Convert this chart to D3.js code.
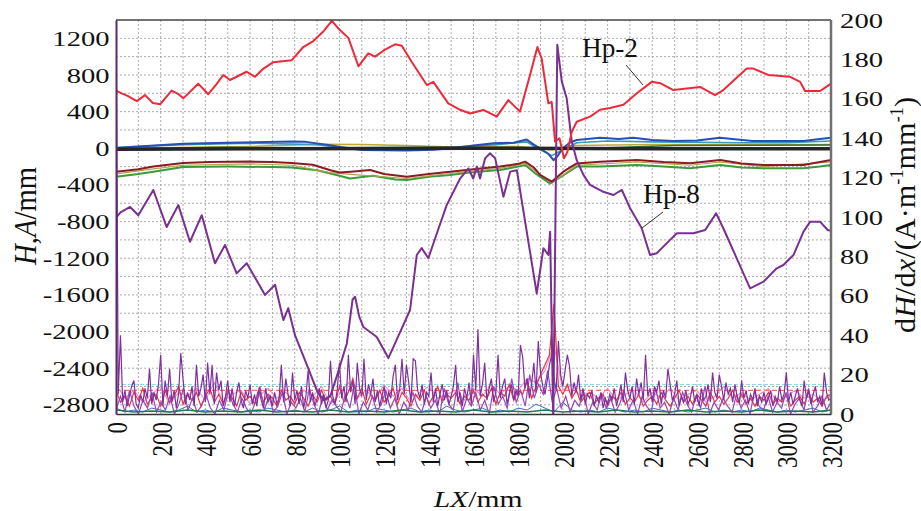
<!DOCTYPE html>
<html lang="en">
<head>
<meta charset="utf-8" />
<title>H, A and dH/dx along LX</title>
<script src="https://d3js.org/d3.v7.min.js"></script>
<style>
  body { margin: 0; background: #fff; }
  svg { display: block; font-family: "Liberation Serif", "Times New Roman", serif; }
  svg text { font-family: "Liberation Serif", "Times New Roman", serif; }
</style>
</head>
<body>
<div id="chart"></div>
<script>
// tick labels
const xTicks = [0, 200, 400, 600, 800, 1000, 1200, 1400, 1600, 1800, 2000, 2200, 2400, 2600, 2800, 3000, 3200];
const leftTicks = [-2800, -2400, -2000, -1600, -1200, -800, -400, 0, 400, 800, 1200];
const rightTicks = [0, 20, 40, 60, 80, 100, 120, 140, 160, 180, 200];

// H / A curves (left axis), [LX, value]
const hp2 = [[0,630],[25,600],[50,575],[93,515],[130,580],[165,495],[197,480],[249,630],[280,590],[301,545],[368,705],[413,590],[450,700],[480,800],[510,745],[585,835],[622,780],[660,870],[704,940],[786,960],[838,1105],[883,1170],[930,1280],[966,1390],[1002,1290],[1040,1205],[1085,895],[1129,1035],[1159,1000],[1200,1070],[1249,1135],[1279,1120],[1323,945],[1391,690],[1420,725],[1487,490],[1540,420],[1585,380],[1644,418],[1704,345],[1756,525],[1808,400],[1853,800],[1886,1105],[1905,980],[1935,490],[1950,505],[1965,75],[1985,110],[2005,-110],[2020,-40],[2040,180],[2062,290],[2122,345],[2166,420],[2211,440],[2271,475],[2331,600],[2398,725],[2435,710],[2495,635],[2614,670],[2681,580],[2718,635],[2823,870],[2853,870],[2920,800],[3017,780],[3062,725],[3084,625],[3151,625],[3200,705]];
const hp8 = [[0,-760],[20,-700],[63,-640],[100,-730],[167,-455],[227,-860],[279,-620],[331,-1020],[384,-730],[443,-1255],[488,-1055],[540,-1365],[585,-1255],[667,-1600],[712,-1490],[749,-1875],[771,-1745],[801,-2040],[860,-2400],[900,-2650],[930,-2750],[960,-2700],[988,-2490],[1033,-2130],[1059,-1650],[1070,-1620],[1089,-1840],[1107,-1950],[1167,-2060],[1219,-2290],[1271,-2010],[1316,-1765],[1346,-1165],[1368,-1090],[1398,-1200],[1440,-900],[1480,-620],[1540,-330],[1577,-220],[1599,-330],[1615,-200],[1629,-330],[1652,-110],[1674,-55],[1697,-110],[1734,-530],[1764,-255],[1794,-240],[1831,-800],[1883,-1585],[1913,-1090],[1935,-1165],[1943,-910],[1957,-3000],[1975,1130],[1995,730],[2017,545],[2040,70],[2062,-130],[2092,-290],[2122,-400],[2181,-475],[2226,-510],[2264,-455],[2301,-655],[2353,-873],[2390,-1165],[2420,-1146],[2472,-1019],[2510,-928],[2584,-928],[2637,-892],[2686,-710],[2718,-873],[2778,-1201],[2838,-1528],[2898,-1456],[2957,-1310],[2987,-1274],[3032,-1165],[3077,-910],[3107,-801],[3151,-801],[3185,-892],[3200,-900]];
const hBlue = [[0,0],[100,20],[300,50],[500,60],[786,75],[850,70],[950,35],[1040,0],[1100,-20],[1300,-25],[1420,-15],[1500,0],[1600,30],[1689,55],[1780,60],[1838,95],[1870,40],[1898,0],[1935,-60],[1958,-130],[1975,-90],[2000,0],[2030,60],[2062,90],[2166,115],[2250,100],[2316,115],[2400,90],[2495,80],[2600,85],[2704,115],[2780,95],[2850,80],[2950,80],[3077,80],[3150,100],[3200,115]];
const hTeal = [[0,10],[300,40],[600,55],[900,40],[1000,10],[1200,-10],[1500,10],[1700,40],[1838,70],[1900,-20],[1950,-80],[1990,-30],[2062,60],[2200,80],[2400,70],[2600,65],[2800,60],[3000,60],[3200,80]];
const hOlive = [[0,0],[600,20],[900,45],[1100,40],[1300,30],[1500,15],[1800,20],[1950,-20],[2050,30],[2400,40],[2800,40],[3200,40]];
const hGreenZero = [[0,-5],[500,10],[1000,5],[1500,10],[2000,-10],[2500,30],[3200,35]];
const hBlack = [[0,-10],[800,-5],[1600,0],[2400,-5],[3200,-5]];
const hDarkRed = [[0,-255],[100,-230],[167,-200],[300,-160],[420,-150],[600,-145],[700,-150],[786,-160],[880,-180],[960,-240],[1000,-265],[1050,-255],[1137,-237],[1200,-280],[1301,-310],[1400,-280],[1495,-255],[1600,-230],[1719,-200],[1800,-170],[1831,-146],[1870,-210],[1898,-290],[1950,-365],[2002,-255],[2062,-165],[2166,-146],[2331,-128],[2450,-150],[2569,-164],[2704,-128],[2800,-165],[2898,-182],[3077,-182],[3150,-150],[3200,-128]];
const hLowOlive = [[0,-280],[167,-225],[300,-185],[600,-170],[786,-185],[960,-265],[1050,-285],[1301,-330],[1495,-275],[1719,-220],[1831,-165],[1950,-380],[2062,-185],[2331,-150],[2569,-185],[2704,-150],[2898,-200],[3200,-150]];
const hGreen = [[0,-310],[100,-280],[167,-255],[300,-205],[500,-200],[700,-205],[786,-210],[900,-240],[1000,-300],[1047,-330],[1150,-300],[1250,-340],[1301,-346],[1400,-310],[1495,-292],[1600,-260],[1719,-237],[1800,-200],[1831,-182],[1880,-280],[1943,-385],[1980,-330],[2062,-200],[2166,-200],[2331,-182],[2450,-200],[2569,-219],[2704,-182],[2800,-210],[2898,-219],[3077,-219],[3150,-200],[3200,-182]];

// dH/dx noise (right axis), evenly spaced from LX 0 to 3200
const dPurple = [
  210,10,40,6,12,4,9,14,17,5,3,10,6,13,8,23,5,11,7,15,
  30,4,17,9,23,6,12,3,10,31,18,5,11,7,14,4,25,9,13,20,
  6,26,10,25,5,21,12,17,4,9,17,6,13,4,11,16,7,3,12,8,
  15,5,10,4,12,7,3,13,6,9,4,11,5,8,25,6,18,10,4,21,
  7,12,5,14,3,9,22,6,11,4,8,13,5,10,3,7,27,9,5,12,
  26,8,14,6,30,11,17,5,26,13,9,28,7,15,10,18,6,12,4,9,
  14,5,11,8,19,25,7,13,28,10,25,16,6,28,27,12,8,15,5,11,
  9,21,6,13,4,10,15,7,12,5,9,14,25,6,11,4,13,8,16,5,
  30,12,43,9,15,26,7,13,18,6,11,30,8,14,18,5,10,15,7,12,
  9,35,29,13,18,8,15,26,11,37,21,14,10,17,25,30,18,12,37,20,
  14,22,30,24,9,16,11,20,7,13,5,10,8,12,4,9,6,11,3,8,
  5,10,7,13,4,9,15,6,21,12,8,14,5,18,10,16,7,30,9,13,
  6,14,11,17,5,12,8,23,15,7,10,17,4,9,6,12,5,8,14,6,
  10,4,13,7,9,15,6,21,11,8,20,14,7,16,10,13,6,15,9,5,
  17,8,12,5,10,7,13,4,9,6,11,5,8,12,4,9,6,14,7,10,
  21,6,11,5,9,13,7,4,17,8,12,5,10,14,6,9,4,21,11,7,8
];
const dViolet = [
  2,9,1,12,4,0,7,3,11,1,6,2,9,0,5,13,2,8,1,4,
  10,3,0,7,2,12,5,1,8,3,0,6,14,2,9,1,4,11,0,6,
  3,8,1,13,5,0,9,2,7,4,1,10,3,15,0,6,2,9,1,5,
  12,3,8,0,6,2,11,4,1,9,3,7,0,13,5,2,16,1,8,4,
  11,2,7,0,14,5,9,3,18,6,12,4,20,8,15,10,22,6,13,3,
  9,1,7,4,11,0,6,2,10,3,8,1,5,12,2,7,0,9,4,1,
  13,3,6,0,8,2,11,5,1,9,3,14,0,6,2,8,4,1,10,3,
  7,0,12,4,2,9,1,6,3,11,0,5,8,2,13,1,4,9,2,6
];
const dRed = [
  12,6,9,4,11,7,13,5,8,10,4,12,6,9,14,5,10,7,11,4,
  9,13,6,10,5,12,8,4,11,7,9,5,13,6,10,8,4,12,7,9,
  5,11,8,4,10,6,12,7,9,5,14,6,11,18,8,13,5,10,7,12,
  6,9,13,5,11,8,4,10,7,12,5,9,14,6,10,8,11,5,9,7,
  12,6,10,8,13,5,11,9,15,7,12,10,17,8,14,20,25,30,56,14,
  10,15,8,12,6,9,11,5,8,10,4,9,7,11,5,8,6,10,4,7,
  9,5,11,7,4,8,12,6,9,5,10,7,4,11,6,9,5,8,12,6,
  10,5,8,4,9,7,11,5,8,6,10,4,7,9,5,11,6,8,4,9,10
];
const dPink = [
  15,8,12,6,10,14,5,11,9,13,7,16,6,10,12,5,9,13,8,11,
  6,12,9,14,5,10,16,8,12,7,15,9,13,6,11,14,8,10,12,7,
  13,9,15,10,14,12,18,16,22,35,12,15,9,11,8,13,7,10,12,6,
  11,8,13,7,10,12,6,9,14,8,11,7,10,13,6,9,12,8,10,7,9
];
const dBlue = [
  3,1,2,1,3,2,1,2,4,1,2,1,3,2,1,2,1,3,2,1,
  2,1,3,1,2,4,1,2,1,3,2,1,2,3,1,2,1,4,2,1,
  2,3,1,2,1,3,2,5,3,1,6,2,1,2,1,3,2,1,2,1,
  3,2,1,2,1,2,3,1,2,1,2,1,3,2,1,2,1,2,3,1,2
];
const dGreen = [
  2,1,1.5,1,2,1,1.5,1,2,1,1.5,1,2,1,1.5,1,2,1,1.5,1,
  2,1,1.5,1,2,1,1.5,1,2,1,1.5,1,2,1,1.5,1,2,1,1.5,1,2
];
const redLevel = 12;
const cyanLevel = 15;

const W = 921, H = 511;
const margin = { top: 20, right: 90, bottom: 97, left: 116 };
const iw = W - margin.left - margin.right;
const ih = H - margin.top - margin.bottom;
const serif = '"Liberation Serif", "Times New Roman", serif';

const svg = d3.select("#chart").append("svg").attr("width", W).attr("height", H);
const g = svg.append("g").attr("transform", `translate(${margin.left},${margin.top})`);

const x = d3.scaleLinear().domain([0, 3200]).range([0, iw]);
const yL = d3.scaleLinear().domain([-2900, 1400]).range([ih, 0]);
const yR = d3.scaleLinear().domain([0, 200]).range([ih, 0]);

g.append("clipPath").attr("id", "plot").append("rect").attr("width", iw).attr("height", ih);

// grid
const gridX = [], gridY = [];
for (let v = 100; v < 3200; v += 100) gridX.push(v);
for (let v = -2800; v <= 1200; v += 200) gridY.push(v);
g.append("g").selectAll("line").data(gridX).join("line")
  .attr("x1", d => x(d)).attr("x2", d => x(d)).attr("y1", 0).attr("y2", ih)
  .attr("stroke", "#a0a0a0").attr("stroke-width", 0.9).attr("stroke-dasharray", "2,2");
g.append("g").selectAll("line").data(gridY).join("line")
  .attr("x1", 0).attr("x2", iw).attr("y1", d => yL(d)).attr("y2", d => yL(d))
  .attr("stroke", "#a0a0a0").attr("stroke-width", 0.9).attr("stroke-dasharray", "2,2");

const plot = g.append("g").attr("clip-path", "url(#plot)");

// threshold lines near the bottom
plot.append("line").attr("x1", 0).attr("x2", iw).attr("y1", yR(cyanLevel)).attr("y2", yR(cyanLevel))
  .attr("stroke", "#8fd6e0").attr("stroke-width", 1).attr("stroke-dasharray", "4,2");
plot.append("line").attr("x1", 0).attr("x2", iw).attr("y1", yR(redLevel)).attr("y2", yR(redLevel))
  .attr("stroke", "#f07060").attr("stroke-width", 1.2).attr("stroke-dasharray", "5,3");

const noiseLine = arr => d3.line()
  .x((d, i) => x(i * 3200 / (arr.length - 1)))
  .y(d => yR(d))(arr);

function noise(arr, color, w) {
  plot.append("path").attr("d", noiseLine(arr))
    .attr("fill", "none").attr("stroke", color).attr("stroke-width", w);
}
noise(dBlue, "#3a6cc8", 1);
noise(dPink, "#e58ad0", 1.1);
noise(dRed, "#e8323c", 1.2);
noise(dViolet, "#9848b8", 1.2);
noise(dPurple, "#80309e", 1.2);
noise(dGreen, "#1f7a55", 1.6);

const hLine = d3.line().x(d => x(d[0])).y(d => yL(d[1]));
function curve(arr, color, w) {
  plot.append("path").attr("d", hLine(arr))
    .attr("fill", "none").attr("stroke", color).attr("stroke-width", w)
    .attr("stroke-linejoin", "round");
}
curve(hGreen, "#3c9a3c", 2);
curve(hLowOlive, "#b0a050", 1.2);
curve(hDarkRed, "#8b1c22", 2);
curve(hOlive, "#c0a838", 1.5);
curve(hTeal, "#3a98b8", 1.6);
curve(hBlue, "#2850b0", 2);
curve(hGreenZero, "#2e6b3a", 1.5);
curve(hBlack, "#262626", 3.5);
curve(hp8, "#7a3090", 2);
curve(hp2, "#ec2a3a", 2);

// frame
g.append("line").attr("x1", 0).attr("x2", iw).attr("y1", 0).attr("y2", 0)
  .attr("stroke", "#444").attr("stroke-width", 1.5);
g.append("line").attr("x1", iw).attr("x2", iw).attr("y1", 0).attr("y2", ih)
  .attr("stroke", "#707070").attr("stroke-width", 2.5);

// axes
const fmt = d => String(d);
const ax = g.append("g").attr("transform", `translate(0,${ih})`)
  .call(d3.axisBottom(x).tickValues(xTicks).tickSize(0).tickFormat(fmt));
ax.attr("font-family", null);
ax.selectAll("text")
  .attr("font-size", 23).style("font-family", serif).attr("fill", "#111")
  .attr("text-anchor", "end").attr("x", -8).attr("y", 0).attr("dy", "0.35em")
  .attr("transform", "scale(1.3,1) rotate(-90)");
ax.select(".domain").attr("stroke", "#333").attr("stroke-width", 1.5);

const al = g.append("g")
  .call(d3.axisLeft(yL).tickValues(leftTicks).tickSize(0).tickPadding(5).tickFormat(fmt));
al.attr("font-family", null);
al.selectAll("text").attr("font-size", 22).style("font-family", serif)
  .attr("fill", "#111").attr("transform", "scale(1.3,1)");
al.select(".domain").attr("stroke", "#5a2a6a").attr("stroke-width", 2);

const ar = g.append("g").attr("transform", `translate(${iw},0)`)
  .call(d3.axisRight(yR).tickValues(rightTicks).tickSize(0).tickPadding(7).tickFormat(fmt));
ar.attr("font-family", null);
ar.selectAll("text").attr("font-size", 22).style("font-family", serif)
  .attr("fill", "#111").attr("transform", "scale(1.3,1)");
ar.select(".domain").remove();

// axis titles
const tb = svg.append("text").attr("transform", "translate(478,507) scale(1.25,1)")
  .attr("text-anchor", "middle").attr("font-size", 24).attr("fill", "#111")
  .attr("textLength", 71).attr("lengthAdjust", "spacingAndGlyphs");
tb.append("tspan").attr("font-style", "italic").text("LX");
tb.append("tspan").text("/mm");

const tl = svg.append("text").attr("transform", "translate(36,216) scale(1.25,1) rotate(-90)")
  .attr("text-anchor", "middle").attr("font-size", 26).attr("fill", "#111")
  .attr("textLength", 98).attr("lengthAdjust", "spacingAndGlyphs");
tl.append("tspan").attr("font-style", "italic").text("H");
tl.append("tspan").text(",");
tl.append("tspan").attr("font-style", "italic").text("A");
tl.append("tspan").text("/mm");

const tr = svg.append("text").attr("transform", "translate(915,215) scale(1.2,1) rotate(-90)")
  .attr("text-anchor", "middle").attr("font-size", 25).attr("fill", "#111")
  .attr("textLength", 236).attr("lengthAdjust", "spacingAndGlyphs");
tr.append("tspan").text("d");
tr.append("tspan").attr("font-style", "italic").text("H");
tr.append("tspan").text("/d");
tr.append("tspan").attr("font-style", "italic").text("x");
tr.append("tspan").text("/(A\u00b7m");
tr.append("tspan").attr("font-size", 15).attr("dy", -10).text("-1");
tr.append("tspan").attr("dy", 10).text("mm");
tr.append("tspan").attr("font-size", 15).attr("dy", -10).text("-1");
tr.append("tspan").attr("dy", 10).text(")");

// series labels with leader lines
svg.append("text").attr("x", 582).attr("y", 57).attr("font-size", 27).attr("fill", "#111")
  .attr("textLength", 56).attr("lengthAdjust", "spacingAndGlyphs").text("Hp-2");
svg.append("line").attr("x1", 626).attr("y1", 65).attr("x2", 643).attr("y2", 85)
  .attr("stroke", "#333").attr("stroke-width", 1);
svg.append("text").attr("x", 643).attr("y", 203).attr("font-size", 27).attr("fill", "#111")
  .attr("textLength", 57).attr("lengthAdjust", "spacingAndGlyphs").text("Hp-8");
svg.append("line").attr("x1", 663).attr("y1", 212).attr("x2", 642).attr("y2", 228)
  .attr("stroke", "#333").attr("stroke-width", 1);
</script>
</body>
</html>
